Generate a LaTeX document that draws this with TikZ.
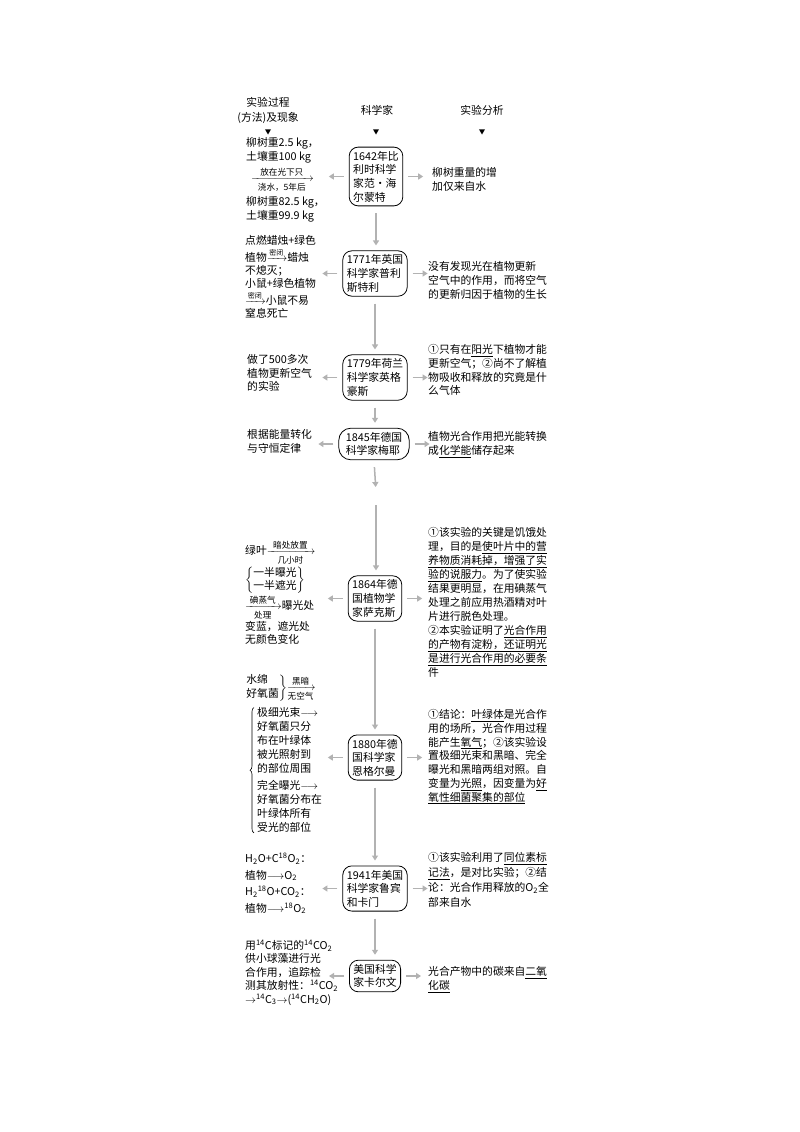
\documentclass[tikz,border=0pt]{standalone}
\usepackage{fontspec}
\setmainfont{Noto Sans CJK SC}
\usepackage{amsmath}
\usetikzlibrary{arrows.meta,shapes.geometric,decorations.pathreplacing}
\newcommand\lbl{\fontsize{8.6}{9}\selectfont}
\newcommand\slbl{\fontsize{7}{8}\selectfont}
\newcommand\arr[3]{\ensuremath{\xrightarrow[{\hbox to #1{\hss\lbl #3\hss}}]{\hbox to #1{\hss\lbl #2\hss}}}}
\newcommand\sarr[2]{\ensuremath{\xrightarrow{\hbox to #1{\hss\slbl #2\hss}}}}
\newcommand\ud[1]{\underline{#1}}
\newcommand\sbs[1]{\textsubscript{#1}}
\newcommand\sps[1]{\textsuperscript{#1}}
\begin{document}
\begin{tikzpicture}[x=1pt,y=-1pt,
  txt/.style={anchor=north west, inner sep=0pt, align=left, font=\fontsize{10.8}{13.6}\selectfont},
  sci/.style={draw, rounded corners=9pt, align=left, inner xsep=4pt, inner ysep=4pt, line width=0.8pt, font=\fontsize{10.8}{13.6}\selectfont},
  hdr/.style={align=center, inner sep=0pt, font=\fontsize{10.8}{15}\selectfont},
  tri/.style={regular polygon, regular polygon sides=3, shape border rotate=180, fill=black, inner sep=0pt, minimum size=7pt},
  varr/.style={draw=black!30, line width=1.5pt, -{Triangle[width=6pt,length=5pt]}, shorten <=7pt, shorten >=5pt},
  harr/.style={draw=black!30, line width=1.5pt, -{Triangle[width=6pt,length=5pt]}},
  brc/.style={decorate, decoration={brace, amplitude=4pt}, line width=0.6pt}
]
\useasboundingbox (0,0) rectangle (800,1132);
\fill[white] (0,0) rectangle (800,1132);

% headers
\node[hdr] (h1) at (268,110) {实验过程\\(方法)及现象};
\node[hdr] (h2) at (377,110) {科学家};
\node[hdr] (h3) at (482,110) {实验分析};
\node[tri] (t1) at (268,131) {};
\node[tri] (t2) at (376,131) {};
\node[tri] (t3) at (482,131) {};

% scientist boxes
\node[sci] (b1) at (376,176.5) {1642年比\\利时科学\\家范·海\\尔蒙特};
\node[sci] (b2) at (375,273.5) {1771年英国\\科学家普利\\斯特利};
\node[sci] (b3) at (375,377.5) {1779年荷兰\\科学家英格\\豪斯};
\node[sci, rounded corners=12pt, inner xsep=7pt] (b4) at (374,444) {1845年德国\\科学家梅耶};
\node[sci] (b5) at (375,598.5) {1864年德\\国植物学\\家萨克斯};
\node[sci] (b6) at (375,757.5) {1880年德\\国科学家\\恩格尔曼};
\node[sci] (b7) at (375,888.5) {1941年美国\\科学家鲁宾\\和卡门};
\node[sci] (b8) at (375,976) {美国科学\\家卡尔文};

% vertical arrows
\coordinate (g1) at (376,492);
\coordinate (g2) at (376,505);
\draw[varr] (b1.south) -- (b1.south |- b2.north);
\draw[varr] (b2.south) -- (b2.south |- b3.north);
\draw[varr] (b3.south) -- (b3.south |- b4.north);
\draw[varr] (b4.south) -- (g1);
\draw[varr, shorten <=0pt] (g2) -- (g2 |- b5.north);
\draw[varr] (b5.south) -- (b5.south |- b6.north);
\draw[varr] (b6.south) -- (b6.south |- b7.north);
\draw[varr] (b7.south) -- (b7.south |- b8.north);

% horizontal arrows
\foreach \b in {b1,b2,b3,b4,b5,b6,b7,b8}{
  \draw[harr] ([xshift=-5pt]\b.west) -- ([xshift=-20pt]\b.west);
  \draw[harr] ([xshift=5pt]\b.east) -- ([xshift=20pt]\b.east);
}

% block 1
\node[txt] (L1) at (246,137.5) {柳树重2.5 kg，\\土壤重100 kg\\[3pt]\hspace*{5pt}\arr{56pt}{放在光下只}{浇水，5年后}\\[3pt]柳树重82.5 kg，\\土壤重99.9 kg};
\node[txt] (R1) at (432,167.5) {柳树重量的增\\加仅来自水};

% block 2
\node[txt, font=\fontsize{10.8}{13.2}\selectfont] (L2) at (245,235.5) {点燃蜡烛+绿色\\[1.5pt]植物\sarr{14pt}{密闭}蜡烛\\不熄灭；\\小鼠+绿色植物\\[1.5pt]\sarr{14pt}{密闭}小鼠不易\\窒息死亡};
\node[txt] (R2) at (428,261.5) {没有发现光在植物更新\\空气中的作用，而将空气\\的更新归因于植物的生长};

% block 3
\node[txt] (L3) at (247,354.5) {做了500多次\\植物更新空气\\的实验};
\node[txt] (R3) at (428,344.5) {①只有在\ud{阳光}下植物才能\\更新空气；②尚不了解植\\物吸收和释放的究竟是什\\么气体};

% block 4
\node[txt] (L4) at (247,429.5) {根据能量转化\\与守恒定律};
\node[txt] (R4) at (428,431.5) {植物光合作用把光能转换\\成\ud{化学能}储存起来};

% block 5
\node[txt] (L5) at (245,540) {绿叶\arr{42pt}{暗处放置}{几小时}\\$\left\{\begin{array}{@{}l@{}}\text{一半曝光}\\\text{一半遮光}\end{array}\right\}$\\\arr{30pt}{碘蒸气}{处理}曝光处\\变蓝，遮光处\\无颜色变化};
\node[txt, font=\fontsize{10.8}{14}\selectfont] (R5) at (428,527.5) {①该实验的关键是饥饿处\\理，目的是\ud{使叶片中的营}\\\ud{养物质消耗掉，增强了实}\\\ud{验的说服力}。为了使实验\\结果更明显，在用碘蒸气\\处理之前应用热酒精对叶\\片进行脱色处理。\\②本实验证明了\ud{光合作用}\\\ud{的产物有淀粉，还证明光}\\\ud{是进行光合作用的必要条}\\件};

% block 6
\node[txt] (L6a) at (245,674) {$\left.\begin{array}{@{}l@{}}\text{水绵}\\\text{好氧菌}\end{array}\right\}$\arr{22pt}{黑暗}{无空气}};
\node[txt, font=\fontsize{10.8}{14}\selectfont] (L6b) at (257,707.5) {极细光束$\longrightarrow$\\好氧菌只分\\布在叶绿体\\被光照射到\\的部位周围\\[3pt]完全曝光$\longrightarrow$\\好氧菌分布在\\叶绿体所有\\受光的部位};
\draw[brc] ([xshift=-3pt]L6b.south west) -- ([xshift=-3pt]L6b.north west);
\node[txt, font=\fontsize{10.8}{13.7}\selectfont] (R6) at (428,709.5) {①结论：\ud{叶绿体}是光合作\\用的场所，光合作用过程\\能产生\ud{氧气}；②该实验设\\置极细光束和黑暗、完全\\曝光和黑暗两组对照。自\\变量为\ud{光照}，因变量为\ud{好}\\\ud{氧性细菌聚集的部位}};

% block 7
\node[txt, font=\fontsize{10.8}{16.5}\selectfont] (L7) at (245,853) {H\sbs{2}O+C\sps{18}O\sbs{2}：\\植物$\longrightarrow$O\sbs{2}\\H\sbs{2}\sps{18}O+CO\sbs{2}：\\植物$\longrightarrow$\sps{18}O\sbs{2}};
\node[txt, font=\fontsize{10.8}{15}\selectfont] (R7) at (428,852.5) {①该实验利用了\ud{同位素标}\\\ud{记法}，是对比实验；②结\\论：光合作用释放的O\sbs{2}全\\部来自水};

% block 8
\node[txt, font=\fontsize{10.8}{13.4}\selectfont] (L8) at (245,940) {用\sps{14}C标记的\sps{14}CO\sbs{2}\\供小球藻进行光\\合作用，追踪检\\测其放射性：\sps{14}CO\sbs{2}\\$\rightarrow$\sps{14}C\sbs{3}$\rightarrow$(\sps{14}CH\sbs{2}O)};
\node[txt] (R8) at (428,966.5) {光合产物中的碳来自\ud{二氧}\\\ud{化碳}};
\end{tikzpicture}
\end{document}
